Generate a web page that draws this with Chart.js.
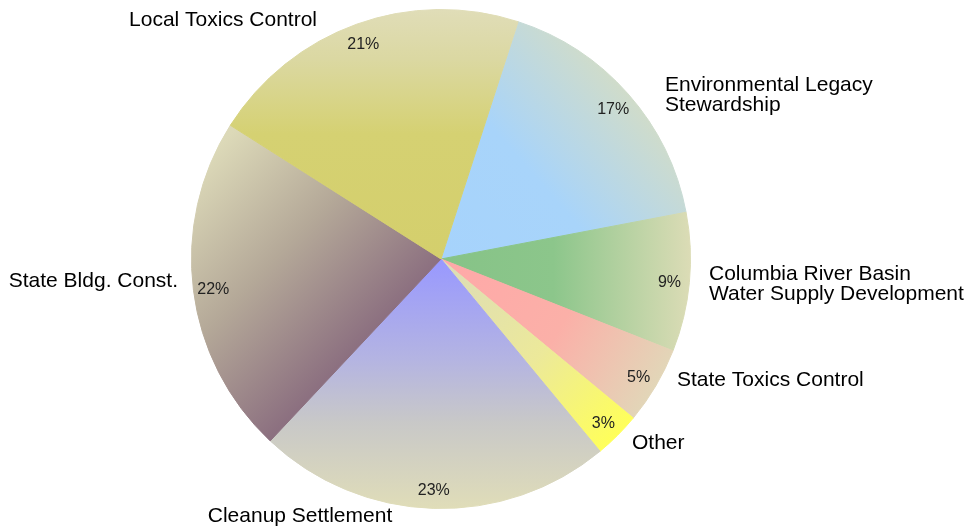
<!DOCTYPE html>
<html>
<head>
<meta charset="utf-8">
<script src="https://cdn.jsdelivr.net/npm/chart.js@4.4.0/dist/chart.umd.min.js"></script>
<style>
  html, body { margin: 0; padding: 0; background: #ffffff; }
  #wrap { width: 974px; height: 529px; position: relative; }
</style>
</head>
<body>
<div id="wrap"><canvas id="pie"></canvas></div>
<script>
// Fund sources, listed clockwise from the slice that starts at 18 degrees past north
const categories = [
  'Environmental Legacy Stewardship',
  'Columbia River Basin Water Supply Development',
  'State Toxics Control',
  'Other',
  'Cleanup Settlement',
  'State Bldg. Const.',
  'Local Toxics Control'
];
// Share of total, percent
const shares = [17, 9, 5, 3, 23, 22, 21];
// Category names as they are broken onto lines beside the pie
const labelLines = [
  ['Environmental Legacy', 'Stewardship'],
  ['Columbia River Basin', 'Water Supply Development'],
  ['State Toxics Control'],
  ['Other'],
  ['Cleanup Settlement'],
  ['State Bldg. Const.'],
  ['Local Toxics Control']
];

// Per-slice linear gradients; endpoints are in units of the pie radius, relative to its centre
const sliceFills = [
  { from: [0, 0], to: [0.75, -0.66], stops: [[0, '#a6d3fc'], [0.5, '#a8d4fa'], [1, '#d0dcca']] },
  { from: [0, 0], to: [1, 0],        stops: [[0, '#86c387'], [0.45, '#8cc68b'], [1, '#dcdcb6']] },
  { from: [0, 0], to: [0.86, 0.51],  stops: [[0, '#ffa8a8'], [0.55, '#fbb0a8'], [1, '#e2d6b8']] },
  { from: [0, 0], to: [0.707, 0.707],stops: [[0, '#dcdcb8'], [0.55, '#ece99a'], [1, '#ffff5a']] },
  { from: [0, 0], to: [0, 1],        stops: [[0, '#9898ff'], [0.4, '#b4b4e2'], [0.65, '#c8c8c8'], [1, '#e0ddb8']] },
  { from: [0, 0], to: [-0.69, -0.66],stops: [[0, '#8c7080'], [0.5, '#b4a898'], [1, '#dcd9b8']] },
  { from: [0, 0], to: [0, -1],       stops: [[0, '#d4cf6c'], [0.5, '#d5d172'], [0.8, '#dbd8a2'], [1, '#e0ddb8']] }
];

// Where each category name sits, in radius units from the pie centre, and how it is aligned
const labelAnchors = [
  { x: 0.896,  y: -0.657, align: 'left' },
  { x: 1.072,  y: 0.100,  align: 'left' },
  { x: 0.944,  y: 0.484,  align: 'left' },
  { x: 0.764,  y: 0.736,  align: 'left' },
  { x: -0.564, y: 1.028,  align: 'center' },
  { x: -1.052, y: 0.088,  align: 'right' },
  { x: -0.496, y: -0.956, align: 'right' }
];

const FONT = 'Arial, "Liberation Sans", Helvetica, sans-serif';

function pieGeometry(chart) {
  const a = chart.chartArea;
  return { cx: (a.left + a.right) / 2, cy: (a.top + a.bottom) / 2, r: Math.min(a.right - a.left, a.bottom - a.top) / 2 };
}

function sliceFill(context) {
  const chart = context.chart;
  const spec = sliceFills[context.dataIndex];
  if (!chart.chartArea || !spec) return spec ? spec.stops[0][1] : '#cccccc';
  const g = pieGeometry(chart);
  const grad = chart.ctx.createLinearGradient(
    g.cx + spec.from[0] * g.r, g.cy + spec.from[1] * g.r,
    g.cx + spec.to[0] * g.r, g.cy + spec.to[1] * g.r);
  spec.stops.forEach(s => grad.addColorStop(s[0], s[1]));
  return grad;
}

const sliceLabels = {
  id: 'sliceLabels',
  afterDatasetsDraw(chart) {
    const ctx = chart.ctx;
    const meta = chart.getDatasetMeta(0);
    const total = shares.reduce((s, v) => s + v, 0);
    const g = pieGeometry(chart);
    ctx.save();
    meta.data.forEach((arc, i) => {
      const mid = (arc.startAngle + arc.endAngle) / 2;
      const rr = arc.outerRadius * 0.92;
      ctx.font = '16px ' + FONT;
      ctx.fillStyle = '#222222';
      ctx.textAlign = 'center';
      ctx.textBaseline = 'middle';
      ctx.fillText(Math.round(shares[i] / total * 100) + '%', arc.x + Math.cos(mid) * rr, arc.y + Math.sin(mid) * rr + 2);

      const anc = labelAnchors[i];
      const lines = labelLines[i];
      const lh = 20;
      const x = g.cx + anc.x * g.r;
      const y0 = g.cy + anc.y * g.r - (lines.length - 1) * lh / 2;
      ctx.font = '21px ' + FONT;
      ctx.fillStyle = '#000000';
      ctx.textAlign = anc.align;
      lines.forEach((t, k) => ctx.fillText(t, x, y0 + k * lh));
    });
    ctx.restore();
  }
};

new Chart(document.getElementById('pie'), {
  type: 'pie',
  data: {
    labels: categories,
    datasets: [{
      data: shares,
      backgroundColor: sliceFill,
      borderColor: sliceFill,
      borderWidth: 1,
      hoverOffset: 0
    }]
  },
  options: {
    responsive: true,
    maintainAspectRatio: false,
    animation: false,
    rotation: 18,
    layout: { padding: { left: 191, right: 283, top: 9, bottom: 20 } },
    plugins: {
      legend: { display: false },
      tooltip: { enabled: false }
    }
  },
  plugins: [sliceLabels]
});
</script>
</body>
</html>
